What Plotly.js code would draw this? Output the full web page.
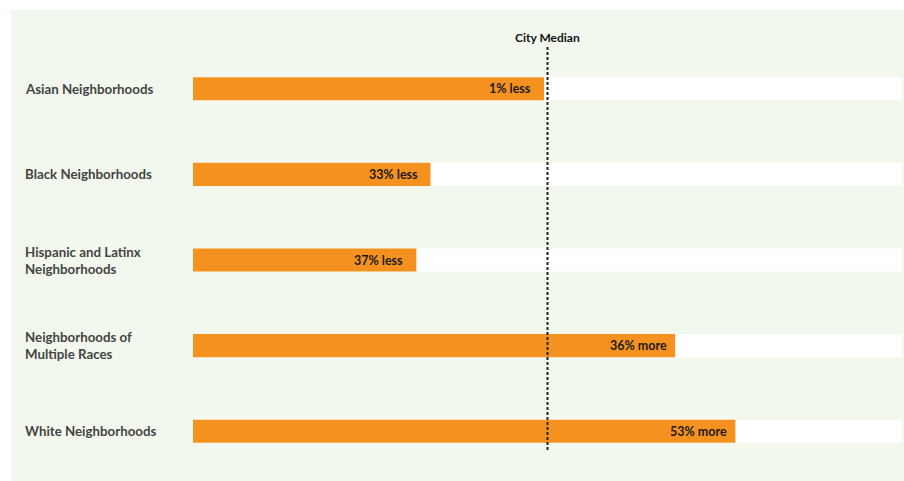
<!DOCTYPE html>
<html>
<head>
<meta charset="utf-8">
<script src="https://cdn.plot.ly/plotly-3.0.1.min.js"></script>
<style>
html,body{margin:0;padding:0;background:#ffffff;}
#wrap{position:absolute;left:11px;top:10px;width:893px;height:471px;}
</style>
</head>
<body>
<div id="wrap"></div>
<script>
// Data: neighborhood median relative to city median (city median = 100)
var categories = ["Asian Neighborhoods", "Black Neighborhoods", "Hispanic and Latinx<br>Neighborhoods", "Neighborhoods of<br>Multiple Races", "White Neighborhoods"];
var values = [99, 67, 63, 136, 153];
var valueLabels = ["1% less", "33% less", "37% less", "36% more", "53% more"];
var trackMax = [200, 200, 200, 200, 200];
var cityMedian = 100;

var idx = categories.map(function(_, i){ return i; });

var track = {
  type: 'bar', orientation: 'h', y: idx, x: trackMax,
  marker: {color: '#ffffff'}, width: 0.27, hoverinfo: 'skip', showlegend: false
};
var bars = {
  type: 'bar', orientation: 'h', y: idx, x: values,
  marker: {color: '#f5921f'}, width: 0.27, showlegend: false
};

var annotations = [];
categories.forEach(function(c, i){
  annotations.push({
    xref: 'paper', yref: 'y', x: -0.2398, y: i, xanchor: 'left', yanchor: 'middle',
    align: 'left', text: c, showarrow: false,
    font: {family: 'Lato, sans-serif', size: 13.3, weight: 700, color: '#444444'}
  });
  annotations.push({
    xref: 'x', yref: 'y', x: values[i], y: i, xanchor: 'right', yanchor: 'middle',
    xshift: values[i] < cityMedian ? -11 : -6, text: valueLabels[i], showarrow: false,
    font: {family: 'Lato, sans-serif', size: 12.5, weight: 700, color: '#1a1a1a'}
  });
});
annotations.push({
  xref: 'x', yref: 'paper', x: cityMedian, y: 1.021, xanchor: 'center', yanchor: 'middle',
  text: 'City Median', showarrow: false,
  font: {family: 'Lato, sans-serif', size: 12, weight: 700, color: '#111111'}
});

var layout = {
  width: 893, height: 471,
  margin: {l: 182, r: 2, t: 36, b: 7},
  paper_bgcolor: '#f3f8ee', plot_bgcolor: 'rgba(0,0,0,0)',
  barmode: 'overlay',
  xaxis: {range: [0, 200], showgrid: false, zeroline: false, showticklabels: false, ticks: '', fixedrange: true},
  yaxis: {range: [4.5, -0.5], showgrid: false, zeroline: false, showticklabels: false, ticks: '', fixedrange: true},
  shapes: [{
    type: 'line', xref: 'x', yref: 'paper', x0: cityMedian, x1: cityMedian, y0: 0.056, y1: 0.998,
    line: {color: '#222222', width: 2, dash: '3px,2px'}, layer: 'above'
  }],
  annotations: annotations
};

Plotly.newPlot('wrap', [track, bars], layout, {displayModeBar: false, staticPlot: true});
</script>
</body>
</html>
